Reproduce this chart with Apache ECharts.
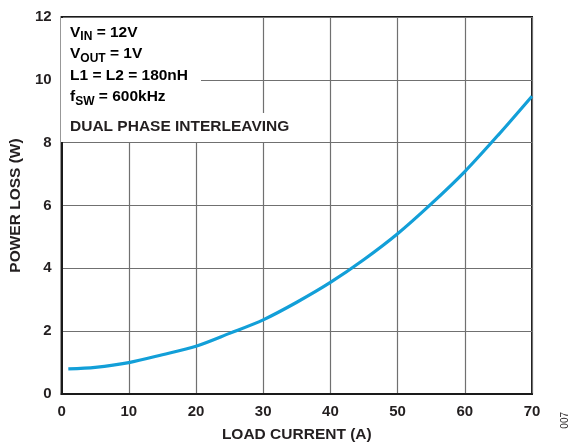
<!DOCTYPE html>
<html>
<head>
<meta charset="utf-8">
<script src="https://cdn.jsdelivr.net/npm/echarts@6/dist/echarts.min.js"></script>
<style>
  html, body { margin: 0; padding: 0; background: #fff; }
  #chart { width: 572px; height: 448px; }
</style>
</head>
<body>
<div id="chart"></div>
<script>
// Load current (A) and total power loss (W)
const loadCurrent = [1, 5, 10, 15, 20, 25, 30, 35, 40, 45, 50, 55, 60, 65, 70];
const powerLoss   = [0.80, 0.85, 1.00, 1.25, 1.52, 1.93, 2.36, 2.92, 3.55, 4.28, 5.10, 6.05, 7.08, 8.25, 9.48];

const xTicks = [0, 10, 20, 30, 40, 50, 60, 70];
const yTicks = [0, 2, 4, 6, 8, 10, 12];

const FONT = '"Liberation Sans", Arial, sans-serif';
const INK = '#231f20';

const chart = echarts.init(document.getElementById('chart'), null, { renderer: 'canvas' });

const rich = {
  b: { fontFamily: FONT, fontWeight: 'bold', fontSize: 15.5, color: INK, lineHeight: 21.5 },
  s: { fontFamily: FONT, fontWeight: 'bold', fontSize: 12, color: INK, lineHeight: 21.5, padding: [9, 0, 0, 0] }
};

chart.setOption({
  animation: false,
  backgroundColor: '#fff',
  grid: {
    left: 60, right: 40, top: 17, bottom: 52,
    show: true, borderColor: '#1a1a1a', borderWidth: 2, backgroundColor: 'transparent'
  },
  xAxis: {
    type: 'value',
    min: xTicks[0], max: xTicks[xTicks.length - 1], interval: 10,
    name: 'LOAD CURRENT (A)', nameLocation: 'middle', nameGap: 33,
    nameTextStyle: { fontFamily: FONT, fontWeight: 'bold', fontSize: 15.5, color: INK },
    axisLine: { show: true, lineStyle: { color: '#1a1a1a', width: 2 } },
    axisTick: { show: false },
    axisLabel: { margin: 10, fontFamily: FONT, fontWeight: 'bold', fontSize: 15, color: INK },
    splitLine: { show: true, lineStyle: { color: '#707070', width: 1.2 } }
  },
  yAxis: {
    type: 'value',
    min: yTicks[0], max: yTicks[yTicks.length - 1], interval: 2,
    name: 'POWER LOSS (W)', nameLocation: 'middle', nameGap: 34,
    nameTextStyle: { fontFamily: FONT, fontWeight: 'bold', fontSize: 15.5, color: INK },
    axisLine: { show: true, lineStyle: { color: '#1a1a1a', width: 2 } },
    axisTick: { show: false },
    axisLabel: { margin: 10, fontFamily: FONT, fontWeight: 'bold', fontSize: 15, color: INK },
    splitLine: { show: true, lineStyle: { color: '#707070', width: 1.2 } }
  },
  series: [{
    type: 'line',
    data: loadCurrent.map((x, i) => [x, powerLoss[i]]),
    smooth: 0.3,
    showSymbol: false,
    lineStyle: { color: '#129fd8', width: 3.2 },
    z: 5
  }],
  graphic: [
    // white panels behind the operating-condition notes
    { type: 'rect', left: 61, top: 18, shape: { width: 140, height: 96 }, style: { fill: '#fff' }, z: 10, silent: true },
    { type: 'rect', left: 61, top: 113, shape: { width: 236, height: 29 }, style: { fill: '#fff' }, z: 10, silent: true },
    {
      type: 'text', left: 70, top: 22, z: 11,
      style: {
        text: '{b|V}{s|IN}{b| = 12V}\n{b|V}{s|OUT}{b| = 1V}\n{b|L1 = L2 = 180nH}\n{b|f}{s|SW}{b| = 600kHz}',
        rich: rich
      }
    },
    {
      type: 'text', left: 70, top: 119, z: 11,
      style: { text: 'DUAL PHASE INTERLEAVING', fontFamily: FONT, fontWeight: 'bold', fontSize: 15.5, fill: INK }
    },
    {
      type: 'text', left: 560, top: 412, rotation: Math.PI / 2, z: 11,
      style: { text: '007', fontFamily: FONT, fontSize: 10, fill: INK }
    }
  ]
});
</script>
</body>
</html>
